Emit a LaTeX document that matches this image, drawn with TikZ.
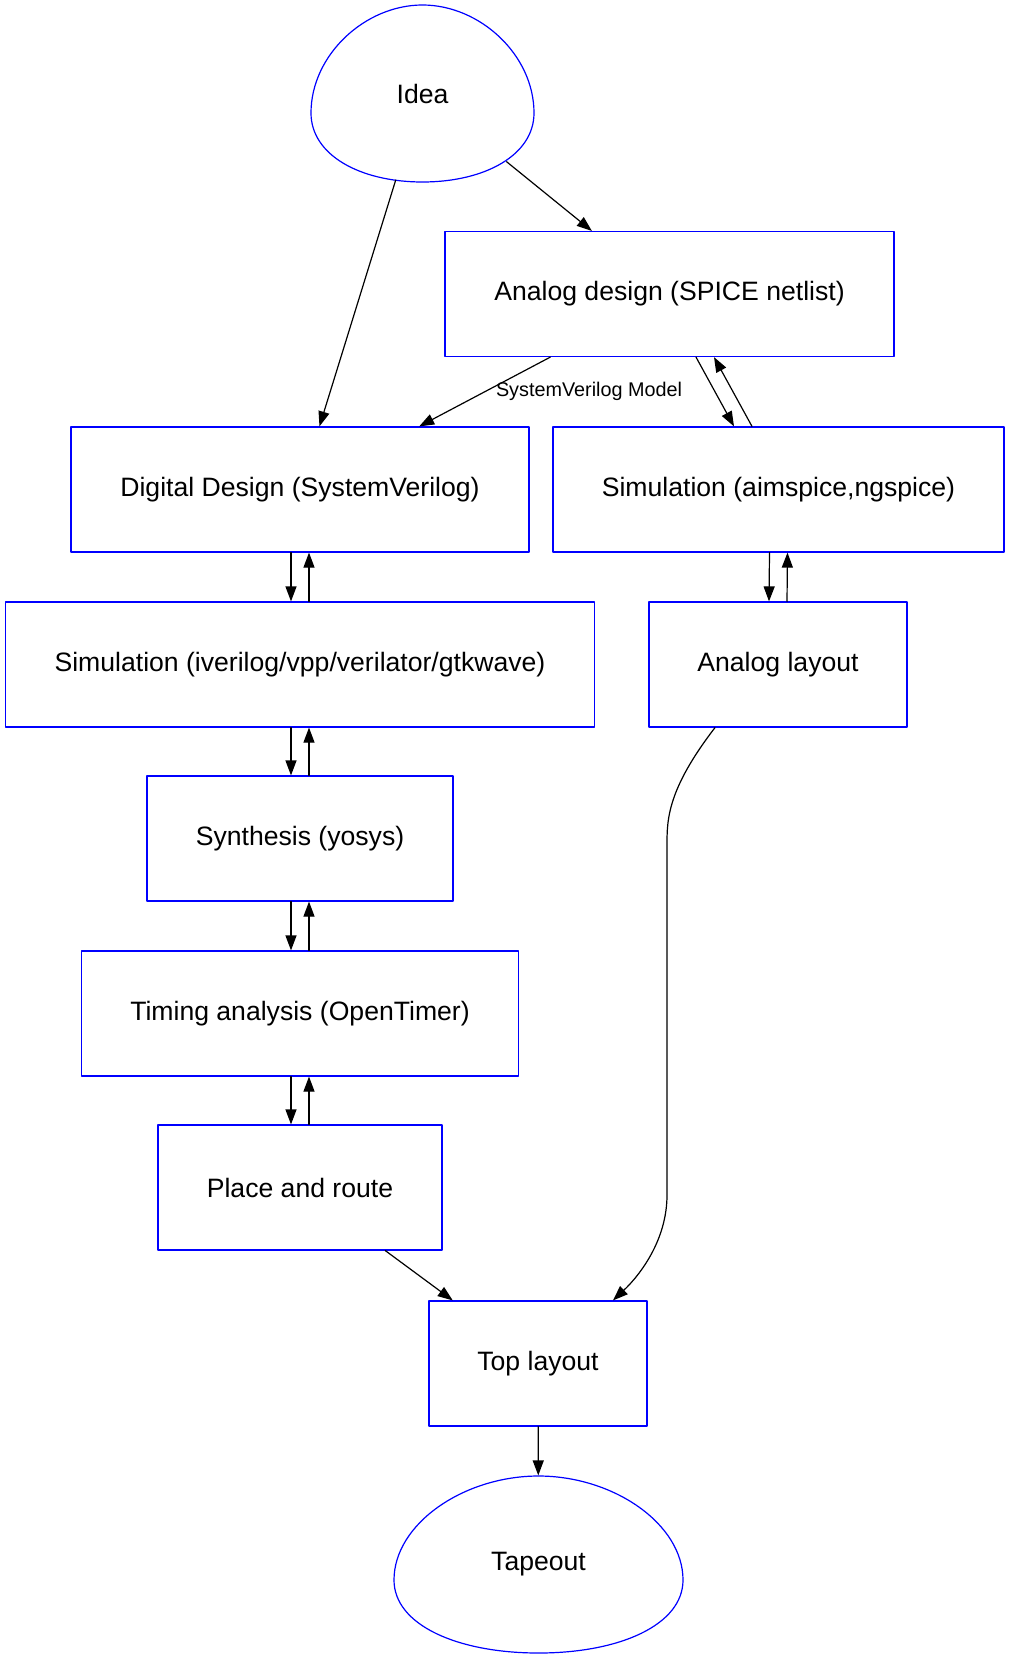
\documentclass[tikz,border=0pt]{standalone}
\usepackage{fontspec}
\setmainfont{Liberation Sans}
\usetikzlibrary{arrows.meta,shapes.geometric}
\begin{document}
\begin{tikzpicture}[x=0.5pt, y=-0.5pt, line cap=round, line join=round, >={Triangle[length=7.5pt,width=5.5pt]}, line width=0.6pt,
		stage/.style={draw=blue, rectangle, minimum height=62.5pt, inner sep=0pt, font=\fontsize{13.3}{16}\selectfont},
		eggnode/.style={ellipse, draw=none, inner sep=0pt, minimum height=88.5pt, font=\fontsize{13.3}{16}\selectfont}]
			\useasboundingbox (0,0) rectangle (1009,1659);
			% start and end
			\node[eggnode, minimum width=111.5pt] (idea) at (422.5,93.5) {Idea};
			\node[eggnode, minimum width=144.5pt] (tapeout) at (538.5,1564.5) {Tapeout};
			\draw[blue] (422.5,5) .. controls (480,5) and (534,55) .. (534,113) .. controls (534,155) and (485,182) .. (422.5,182)
				.. controls (360,182) and (311,155) .. (311,113) .. controls (311,55) and (365,5) .. (422.5,5) -- cycle;
			\draw[blue] (538.5,1476) .. controls (613.5,1476) and (683,1524) .. (683,1580) .. controls (683,1625) and (619.5,1653) .. (538.5,1653)
				.. controls (457.5,1653) and (394,1625) .. (394,1580) .. controls (394,1524) and (463.5,1476) .. (538.5,1476) -- cycle;
			% analog flow
			\node[stage, minimum width=224.5pt] (analog) at (669.5,294) {Analog design (SPICE netlist)};
			\node[stage, minimum width=225.5pt] (simana) at (778.5,489.5) {Simulation (aimspice,ngspice)};
			\node[stage, minimum width=129pt] (alayout) at (778,664.5) {Analog layout};
			% digital flow
			\node[stage, minimum width=229pt] (digital) at (300,489.5) {Digital Design (SystemVerilog)};
			\node[stage, minimum width=294.5pt] (simdig) at (300,664.5) {Simulation (iverilog/vpp/verilator/gtkwave)};
			\node[stage, minimum width=153pt] (synth) at (300,838.5) {Synthesis (yosys)};
			\node[stage, minimum width=218.5pt] (timing) at (300,1013.5) {Timing analysis (OpenTimer)};
			\node[stage, minimum width=142pt] (pnr) at (300,1187.5) {Place and route};
			\node[stage, minimum width=109pt] (toplay) at (538,1363.5) {Top layout};
			% connectors
			\draw[->] (idea) -- (digital);
			\draw[->, shorten <=3.6pt] (idea) -- (analog);
			\draw[->] (analog) -- node[right, xshift=2pt, font=\fontsize{9.9}{12}\selectfont] {SystemVerilog Model} (digital);
			\draw[->] ([xshift=13.25pt]analog.south) -- ([xshift=-22.25pt]simana.north);
			\draw[->] ([xshift=-13.25pt]simana.north) -- ([xshift=22.25pt]analog.south);
			\draw[->] ([xshift=-4.5pt]simana.south) -- ([xshift=-4.5pt]alayout.north);
			\draw[->] ([xshift=4.5pt]alayout.north) -- ([xshift=4.5pt]simana.south);
			\draw[->] ([xshift=-4.5pt]digital.south) -- ([xshift=-4.5pt]simdig.north);
			\draw[->] ([xshift=4.5pt]simdig.north) -- ([xshift=4.5pt]digital.south);
			\draw[->] ([xshift=-4.5pt]simdig.south) -- ([xshift=-4.5pt]synth.north);
			\draw[->] ([xshift=4.5pt]synth.north) -- ([xshift=4.5pt]simdig.south);
			\draw[->] ([xshift=-4.5pt]synth.south) -- ([xshift=-4.5pt]timing.north);
			\draw[->] ([xshift=4.5pt]timing.north) -- ([xshift=4.5pt]synth.south);
			\draw[->] ([xshift=-4.5pt]timing.south) -- ([xshift=-4.5pt]pnr.north);
			\draw[->] ([xshift=4.5pt]pnr.north) -- ([xshift=4.5pt]timing.south);
			\draw[->] (pnr) -- (toplay);
			\draw[->] ([xshift=-31.5pt]alayout.south) .. controls (667,790) and (667,820) .. (667,845) -- (667,1195)
				.. controls (667,1240) and (640,1275) .. ([xshift=37.5pt]toplay.north);
			\draw[->] (toplay) -- (tapeout);
		\end{tikzpicture}
\end{document}
